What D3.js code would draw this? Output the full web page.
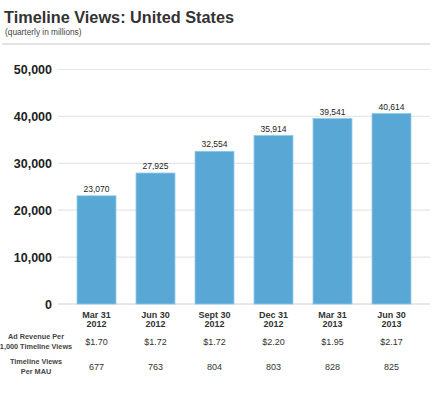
<!DOCTYPE html>
<html>
<head>
<meta charset="utf-8">
<script src="https://cdn.jsdelivr.net/npm/d3@7"></script>
<style>
  body { margin: 0; background: #fff; }
  svg { font-family: "Liberation Sans", Arial, sans-serif; }
</style>
</head>
<body>
<div id="wrapper"></div>
<script>
const quarters = ["Mar 31", "Jun 30", "Sept 30", "Dec 31", "Mar 31", "Jun 30"]
const years = ["2012", "2012", "2012", "2012", "2013", "2013"]
const views = [23070, 27925, 32554, 35914, 39541, 40614]
const adRevenue = ["$1.70", "$1.72", "$1.72", "$2.20", "$1.95", "$2.17"]
const viewsPerMau = ["677", "763", "804", "803", "828", "825"]
const yTicks = [0, 10000, 20000, 30000, 40000, 50000]

const drawChart = () => {
  const dimensions = {
    width: 440,
    height: 395,
    margin: { top: 69.5, right: 10, bottom: 91, left: 58 },
  }
  const plotRight = dimensions.width - dimensions.margin.right
  const plotBottom = dimensions.height - dimensions.margin.bottom

  const wrapper = d3
    .select("#wrapper")
    .append("svg")
    .attr("width", dimensions.width)
    .attr("height", dimensions.height)

  // title
  wrapper.append("text")
    .attr("x", 4).attr("y", 23)
    .attr("font-size", 16.3).attr("font-weight", "bold").attr("fill", "#333")
    .text("Timeline Views: United States")
  wrapper.append("text")
    .attr("x", 5).attr("y", 35)
    .attr("font-size", 8.3).attr("fill", "#444")
    .text("(quarterly in millions)")
  wrapper.append("line")
    .attr("x1", 2).attr("x2", plotRight)
    .attr("y1", 44).attr("y2", 44)
    .attr("stroke", "#c8c8c8").attr("stroke-width", 1.2)

  // scales
  const xScale = d3.scaleBand()
    .domain(d3.range(views.length))
    .range([67, 421])
    .paddingInner(0.34)
    .paddingOuter(0.17)

  const yScale = d3.scaleLinear()
    .domain([0, 50000])
    .range([plotBottom, dimensions.margin.top])

  // grid
  wrapper.append("g")
    .selectAll("line")
    .data(yTicks)
    .join("line")
    .attr("x1", dimensions.margin.left)
    .attr("x2", plotRight)
    .attr("y1", (d) => yScale(d))
    .attr("y2", (d) => yScale(d))
    .attr("stroke", (d) => (d === 0 ? "#d0d0d0" : "#e6e6e6"))
    .attr("stroke-width", 1.2)

  wrapper.append("g")
    .selectAll("text")
    .data(yTicks)
    .join("text")
    .attr("x", 52)
    .attr("y", (d) => yScale(d) + 4.5)
    .attr("text-anchor", "end")
    .attr("font-size", 12.5)
    .attr("font-weight", "bold")
    .attr("fill", "#222")
    .text((d) => d3.format(",")(d))

  // bars
  wrapper.append("g")
    .selectAll("rect")
    .data(views)
    .join("rect")
    .attr("x", (d, i) => xScale(i))
    .attr("y", (d) => yScale(d))
    .attr("width", xScale.bandwidth())
    .attr("height", (d) => plotBottom - yScale(d))
    .attr("fill", "#58a7d5")
    .attr("stroke", "#8fc7ea")
    .attr("stroke-width", 0.8)

  wrapper.append("g")
    .selectAll("text")
    .data(views)
    .join("text")
    .attr("x", (d, i) => xScale(i) + xScale.bandwidth() / 2)
    .attr("y", (d) => yScale(d) - 4)
    .attr("text-anchor", "middle")
    .attr("font-size", 8.5)
    .attr("fill", "#222")
    .text((d) => d3.format(",")(d))

  // x labels and table rows
  const cx = (i) => xScale(i) + xScale.bandwidth() / 2
  const rowText = (values, y, size, weight) => {
    wrapper.append("g")
      .selectAll("text")
      .data(values)
      .join("text")
      .attr("x", (d, i) => cx(i))
      .attr("y", y)
      .attr("text-anchor", "middle")
      .attr("font-size", size)
      .attr("font-weight", weight)
      .attr("fill", "#333")
      .text((d) => d)
  }
  rowText(quarters, 318, 9, "bold")
  rowText(years, 327, 9, "bold")
  rowText(adRevenue, 345, 9, "normal")
  rowText(viewsPerMau, 369.5, 9, "normal")

  const rowLabel = (lines, y) => {
    lines.forEach((line, i) => {
      wrapper.append("text")
        .attr("x", 36)
        .attr("y", y + i * 10)
        .attr("text-anchor", "middle")
        .attr("font-size", 7.3)
        .attr("font-weight", "bold")
        .attr("fill", "#444")
        .text(line)
    })
  }
  rowLabel(["Ad Revenue Per", "1,000 Timeline Views"], 339)
  rowLabel(["Timeline Views", "Per MAU"], 364)
}

drawChart()
</script>
</body>
</html>
